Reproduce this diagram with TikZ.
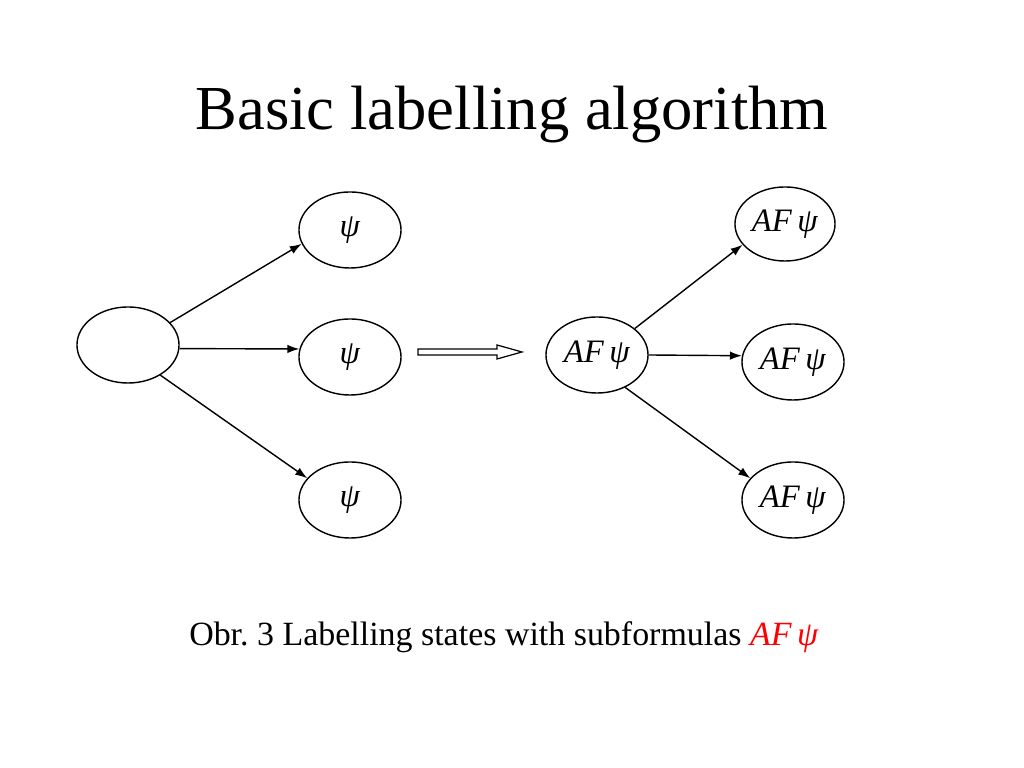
\documentclass[tikz,border=0pt]{standalone}
\usepackage{fontspec}
\setmainfont{Liberation Serif}
\usetikzlibrary{shapes.geometric,arrows.meta}
\frenchspacing
\begin{document}
\begin{tikzpicture}[x=0.01cm,y=-0.01cm,
  state/.style={draw,ellipse,line width=0.4pt,minimum width=1.02cm,minimum height=0.76cm,inner sep=0pt,font=\fontsize{9.3pt}{10pt}\selectfont},
  edge/.style={-{Latex[length=3.4pt,width=2.4pt]},line width=0.4pt}]
\useasboundingbox (0,0) rectangle (1024,768);
\node (title) at (512,115) {\fontsize{17.8pt}{20pt}\selectfont Basic labelling algorithm};
\node[state] (L) at (128,345) {};
\node[state] (P1) at (350,230) {\textit{ψ}};
\node[state] (P2) at (350,357) {\textit{ψ}};
\node[state] (P3) at (350,500) {\textit{ψ}};
\node[state] (A) at (597,355) {\textit{AF\,ψ}};
\node[state,minimum width=1.0cm,minimum height=0.74cm] (R1) at (785,224) {\textit{AF\,ψ}};
\node[state] (R2) at (793,362) {\textit{AF\,ψ}};
\node[state] (R3) at (793,500) {\textit{AF\,ψ}};
\draw[edge] (L.28) -- (P1.196);
\draw[edge] (L.-4) -- (P2.171);
\draw[edge] (L.-43) -- (P3.153);
\draw[edge] (A.35) -- (R1.206);
\draw[edge] (A.0) -- (R2.173);
\draw[edge] (A.-49) -- (R3.153);
\draw[line width=0.35pt] (418,349)--(497,349)--(497,345)--(522,352)--(497,359)--(497,355)--(418,355)--cycle;
\node (cap) at (504,637) {\fontsize{9.65pt}{11pt}\selectfont Obr. 3 Labelling states with subformulas \textcolor{red}{\textit{AF\,ψ}}};
\end{tikzpicture}
\end{document}
